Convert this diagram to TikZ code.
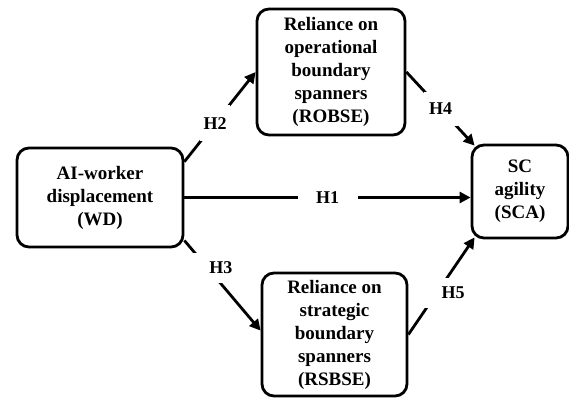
\documentclass[tikz,border=0pt]{standalone}
\usepackage{fontspec}
\setmainfont{Liberation Serif}
\usetikzlibrary{arrows.meta,positioning,calc}

\begin{document}
\begin{tikzpicture}[x=1pt,y=-1pt,>={Triangle[length=11pt,width=11pt]}]
	    \tikzstyle{box}=[draw=black,line width=2.8pt,rounded corners=12pt,align=center,inner sep=2pt,font=\fontsize{19}{23}\selectfont\bfseries]
	    \tikzstyle{hyp}=[fill=white,inner sep=0pt,font=\fontsize{18}{21}\selectfont\bfseries]
	    \useasboundingbox (0,0) rectangle (569,399);
	    
	    \node[box,minimum width=166pt,minimum height=99pt] (wd) at (100,197.5) {AI-worker\\displacement\\(WD)};
	    \node[box,minimum width=148pt,minimum height=126pt] (robse) at (331,72) {Reliance on\\operational\\boundary\\spanners\\(ROBSE)};
	    \node[box,minimum width=145pt,minimum height=123pt] (rsbse) at (334.5,334.5) {Reliance on\\strategic\\boundary\\spanners\\(RSBSE)};
	    \node[box,minimum width=96pt,minimum height=93pt] (sca) at (520,191.5) {SC\\agility\\(SCA)};
	    
	    \path[->,line width=2.8pt] (wd.east) edge node[hyp,minimum width=60pt,minimum height=20pt] {H1} (wd.east -| sca.west);
	    \path[->,line width=2.8pt] (wd.23) edge node[hyp,pos=0.43,minimum width=30pt,minimum height=36pt] {H2} (robse.west);
	    \path[->,line width=2.8pt] (wd.-27) edge node[hyp,pos=0.3,xshift=5pt,text width=40pt,align=right,inner xsep=3pt,minimum height=30pt] {H3} (rsbse.177);
	    \path[->,line width=2.8pt] (robse.east) edge node[hyp,minimum width=34pt,minimum height=34pt] {H4} ([xshift=4pt,yshift=-2pt]sca.north west);
	    \path[->,line width=2.8pt] (rsbse.east) edge node[hyp,pos=0.45,xshift=5.5pt,yshift=-2pt,text width=42pt,align=right,inner xsep=3pt,minimum height=30pt] {H5} ([xshift=4pt,yshift=2pt]sca.south west);
    
    \end{tikzpicture}
\end{document}
